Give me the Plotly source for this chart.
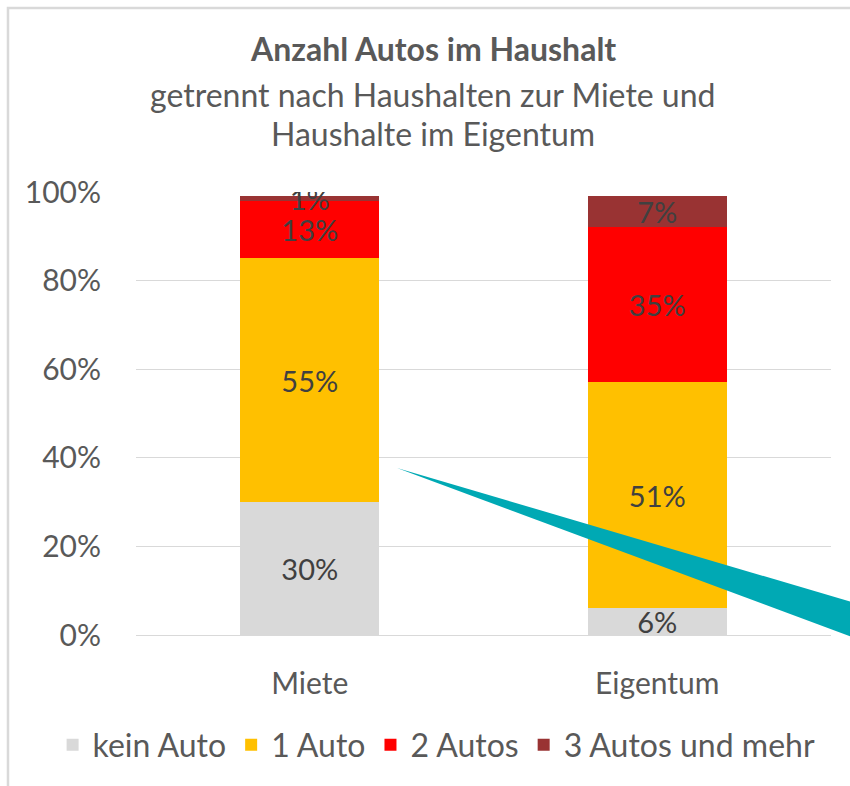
import plotly.graph_objects as go

categories = ["Miete", "Eigentum"]
series_names = ["kein Auto", "1 Auto", "2 Autos", "3 Autos und mehr"]
kein_auto = [30, 6]
ein_auto = [55, 51]
zwei_autos = [13, 35]
drei_autos = [1, 7]
series_values = [kein_auto, ein_auto, zwei_autos, drei_autos]
colors = ["#D9D9D9", "#FFC000", "#FF0000", "#993333"]
y_ticks = [0, 20, 40, 60, 80, 100]

FONT = "Lato"
fig = go.Figure()
for name, vals, col in zip(series_names, series_values, colors):
    fig.add_trace(go.Bar(
        x=categories, y=vals, name=name,
        marker=dict(color=col, line=dict(width=0)),
        width=0.4,
        text=[f"{v}%" for v in vals],
        textposition="inside", insidetextanchor="middle",
        textfont=dict(family=FONT, size=29, color="#404040"),
        constraintext="none",
        hoverinfo="skip",
    ))

fig.update_layout(
    barmode="stack",
    width=850, height=786,
    margin=dict(l=136, r=19, t=192, b=151, autoexpand=False),
    paper_bgcolor="white", plot_bgcolor="white",
    font=dict(family=FONT, color="#595959"),
    uniformtext=dict(minsize=29, mode="show"),
    showlegend=True,
    legend=dict(orientation="h", xref="paper", yref="paper",
                x=-0.12, xanchor="left", y=-0.248, yanchor="middle",
                font=dict(family=FONT, size=32, color="#595959"),
                itemwidth=30, traceorder="normal", bgcolor="rgba(0,0,0,0)"),
    bargap=0.6,
)
fig.update_yaxes(range=[0, 100], tickvals=y_ticks, ticktext=[f"{v}%" for v in y_ticks],
                 showgrid=True, gridcolor="#D9D9D9", gridwidth=1, zeroline=False,
                 showline=False, ticks="", ticklabelstandoff=34,
                 tickfont=dict(family=FONT, size=30, color="#595959"))
fig.update_xaxes(showline=True, linecolor="#D9D9D9", linewidth=1, ticks="",
                 ticklabelstandoff=22,
                 tickfont=dict(family=FONT, size=30, color="#595959"))

# titles
fig.add_annotation(text="<b>Anzahl Autos im Haushalt</b>", xref="paper", yref="paper",
                   x=0.427, y=1.325, showarrow=False, xanchor="center", yanchor="middle",
                   font=dict(family=FONT, size=32, color="#595959"))
fig.add_annotation(text="getrennt nach Haushalten zur Miete und", xref="paper", yref="paper",
                   x=0.427, y=1.219, showarrow=False, xanchor="center", yanchor="middle",
                   font=dict(family=FONT, size=32, color="#595959"))
fig.add_annotation(text="Haushalte im Eigentum", xref="paper", yref="paper",
                   x=0.427, y=1.133, showarrow=False, xanchor="center", yanchor="middle",
                   font=dict(family=FONT, size=32, color="#595959"))

# frame (left and top border)
fig.add_shape(type="path", xref="paper", yref="paper",
              path="M -0.1842,-0.5 L -0.1842,1.4153 L 1.1,1.4153",
              line=dict(color="#D9D9D9", width=2.5), layer="above")

# teal wedge arrow
fig.add_shape(type="path", xref="paper", yref="paper",
              path="M 0.3755,0.377 L 1.06,0.0606 L 1.06,-0.0216 Z",
              fillcolor="#00A9B4", line=dict(width=0), layer="above")

fig.write_html("out.html", config={"displayModeBar": False},
               post_script="document.body.style.margin='0';document.body.style.overflow='hidden';")
